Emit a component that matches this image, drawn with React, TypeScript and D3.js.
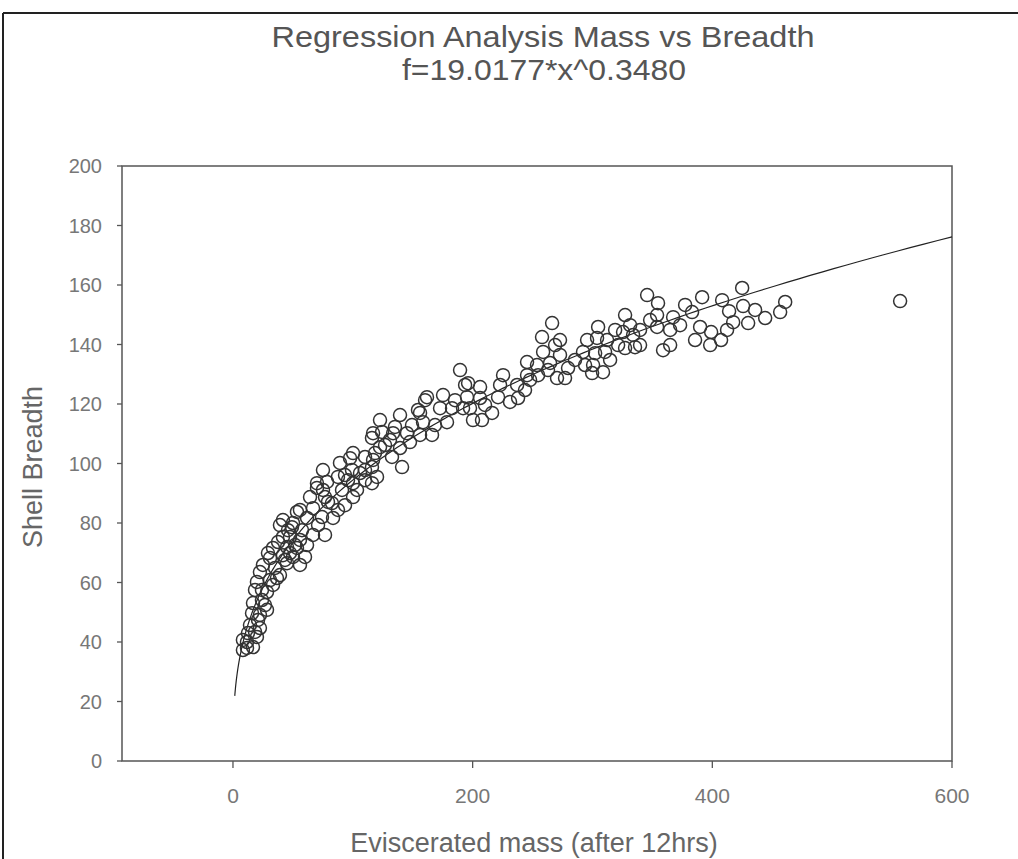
import React from "react";
import * as d3 from "d3";

// Scatter data: eviscerated mass (x) vs shell breadth (y)
const massValues: number[] = [
  345.6, 354.7, 327.2, 325.5, 327.2, 339.7, 339.7, 353.9, 353.9, 364.8,
  367.3, 358.9, 364.8, 383.1, 391.5, 389.8, 385.6, 399.0, 407.3, 412.3,
  408.2, 414.0, 424.9, 425.7, 429.9, 444.1, 456.6, 460.8, 556.7,
  304.7, 303.8, 312.2, 295.5, 292.1, 302.2, 310.5, 300.5, 308.8, 299.7,
  321.4, 333.9, 335.5, 266.3, 257.9, 268.8, 258.8, 264.6, 272.9, 279.6,
  270.4, 277.1, 253.7, 245.4, 245.4, 254.6, 237.1, 225.4, 222.9, 221.2,
  231.2, 216.2, 206.2, 206.2, 196.2, 195.3, 192.0, 200.3, 189.5, 193.7,
  182.8, 172.8, 178.6, 160.3, 154.4, 158.6, 168.6, 166.1, 139.4, 135.2,
  145.2, 122.7, 124.4, 131.0, 139.4, 147.7, 141.1, 132.7, 122.7, 116.0,
  118.5, 110.2, 116.0, 120.2, 97.7, 99.3, 89.3, 87.6, 100.2, 106.0,
  75.1, 78.5, 91.0, 100.2, 70.1, 64.3, 76.8, 82.6, 87.6, 66.8,
  61.8, 74.3, 83.5, 70.1, 79.3, 53.4, 39.2, 49.2, 57.6, 76.8,
  66.8, 47.6, 55.9, 37.6, 33.4, 45.1, 53.4, 41.7, 50.1, 60.1,
  30.9, 55.9, 45.1, 25.0, 35.1, 22.5, 39.2, 30.9, 20.0, 33.4,
  18.4, 28.4, 24.2, 16.7, 28.4, 15.9, 20.9, 14.2, 22.5, 12.5,
  20.0, 11.7, 16.7, 11.7, 161.9, 156.1, 133.6, 116.9, 116.9, 116.0,
  100.2, 96.0, 75.1, 55.9, 50.1, 41.7, 61.8, 47.6, 8.3, 8.3,
  18.4, 22.5, 26.7, 24.2, 36.7, 29.2, 43.4, 51.8, 45.9, 41.7,
  93.5, 110.2, 126.9, 149.4, 156.1, 175.3, 185.3, 197.8, 210.3, 207.8,
  237.9, 243.7, 247.9, 262.9, 272.9, 285.4, 293.8, 314.7, 318.9, 331.4,
  348.1, 373.1, 377.3, 398.2, 417.4, 435.7, 71.0, 93.5, 103.5, 110.2,
];
const breadthValues: number[] = [
  156.6, 153.9, 149.9, 144.2, 138.8, 144.9, 139.8, 149.9, 145.9, 144.9,
  149.2, 138.1, 139.8, 150.9, 155.9, 145.9, 141.5, 144.2, 141.5, 144.9,
  154.9, 151.2, 159.0, 152.9, 147.2, 148.9, 150.9, 154.3, 154.6,
  145.9, 142.2, 141.5, 141.5, 137.5, 137.1, 137.5, 133.1, 130.7, 130.4,
  139.8, 143.2, 139.1, 147.2, 142.5, 139.8, 137.5, 133.8, 136.5, 132.1,
  128.7, 128.7, 133.1, 134.1, 129.7, 129.7, 126.4, 129.7, 126.4, 122.3,
  120.7, 117.0, 125.7, 122.0, 127.0, 122.3, 118.6, 114.6, 131.4, 126.4,
  118.6, 118.6, 113.9, 121.3, 118.0, 113.9, 112.9, 109.6, 116.3, 112.3,
  110.2, 114.6, 110.6, 107.9, 105.2, 107.2, 98.8, 102.2, 105.5, 108.6,
  103.5, 102.2, 98.8, 95.5, 101.8, 97.8, 100.2, 95.5, 93.4, 96.8,
  97.8, 93.8, 91.1, 88.7, 91.8, 88.7, 88.7, 86.7, 84.4, 85.0,
  81.7, 82.0, 81.7, 93.4, 87.1, 83.7, 79.3, 78.6, 77.6, 76.0,
  76.0, 75.3, 74.3, 73.6, 71.6, 71.9, 71.6, 69.2, 68.6, 68.6,
  68.2, 65.9, 66.5, 65.9, 64.9, 63.5, 62.5, 60.8, 60.2, 59.2,
  57.5, 56.8, 54.1, 53.1, 50.8, 49.7, 47.4, 45.7, 44.7, 43.0,
  41.7, 40.0, 38.3, 38.0, 122.3, 117.0, 110.2, 110.2, 101.2, 93.4,
  103.5, 94.4, 91.1, 84.4, 80.0, 75.3, 72.6, 69.9, 40.7, 37.3,
  43.4, 49.1, 52.4, 57.5, 61.5, 69.9, 67.6, 72.6, 77.6, 81.0,
  96.1, 97.8, 106.2, 112.9, 109.6, 123.0, 121.3, 118.6, 119.7, 114.6,
  122.0, 124.7, 128.1, 131.4, 141.5, 134.8, 133.1, 134.8, 144.9, 146.5,
  148.2, 146.5, 153.3, 139.8, 147.5, 151.6, 79.3, 86.0, 91.1, 94.4,
];

// Fitted regression f = a * x^b (from the chart subtitle)
const fitA = 19.0177;
const fitB = 0.348;
const fitRange: [number, number] = [1.5, 600];

const xTicks: number[] = [0, 200, 400, 600];
const yTicks: number[] = [0, 20, 40, 60, 80, 100, 120, 140, 160, 180, 200];

const titleText = "Regression Analysis Mass vs Breadth";
const subtitleText = "f=19.0177*x^0.3480";
const xLabel = "Eviscerated mass (after 12hrs)";
const yLabel = "Shell Breadth";

export default function App() {
  const W = 1018;
  const H = 859;
  const left = 122, right = 952, top = 166, bottom = 761;
  const x = d3.scaleLinear().domain([-92.6, 600]).range([left, right]);
  const y = d3.scaleLinear().domain([0, 200]).range([bottom, top]);

  const fitXs = d3.range(0, 301).map((i) => fitRange[0] * Math.pow(fitRange[1] / fitRange[0], i / 300));
  const line = d3
    .line<number>()
    .x((d) => x(d))
    .y((d) => y(fitA * Math.pow(d, fitB)));

  const font = "'Liberation Sans', Arial, sans-serif";
  const axisColor = "#555";
  const textColor = "#777";

  return (
    <svg
      width={W}
      height={H}
      style={{ position: "absolute", left: 0, top: 0, display: "block", background: "#fff" }}
      fontFamily={font}
    >
      <rect x={0} y={0} width={W} height={H} fill="#fff" />
      {/* outer frame */}
      <line x1={3} y1={13} x2={W} y2={13} stroke="#222" strokeWidth={2} />
      <line x1={3} y1={13} x2={3} y2={H} stroke="#222" strokeWidth={2} />

      {/* titles */}
      <text x={543} y={47} textAnchor="middle" fontSize={30} fill="#555" textLength={543} lengthAdjust="spacingAndGlyphs">
        {titleText}
      </text>
      <text x={544} y={80} textAnchor="middle" fontSize={30} fill="#555" textLength={284} lengthAdjust="spacingAndGlyphs">
        {subtitleText}
      </text>

      {/* plot frame */}
      <rect x={left} y={top} width={right - left} height={bottom - top} fill="none" stroke={axisColor} strokeWidth={1.5} />

      {/* y ticks */}
      {yTicks.map((t) => (
        <g key={"y" + t}>
          <line x1={left - 5} x2={left} y1={y(t)} y2={y(t)} stroke={axisColor} strokeWidth={1.3} />
          <text x={left - 20} y={y(t) + 7} textAnchor="end" fontSize={20} fill={textColor}>
            {t}
          </text>
        </g>
      ))}
      {/* x ticks */}
      {xTicks.map((t) => (
        <g key={"x" + t}>
          <line x1={x(t)} x2={x(t)} y1={bottom} y2={bottom + 7} stroke={axisColor} strokeWidth={1.3} />
          <text x={x(t)} y={bottom + 42} textAnchor="middle" fontSize={21} fill={textColor}>
            {t}
          </text>
        </g>
      ))}

      {/* axis labels */}
      <text x={534} y={852} textAnchor="middle" fontSize={27} fill="#666">
        {xLabel}
      </text>
      <text
        transform={`translate(42, 467) rotate(-90)`}
        textAnchor="middle"
        fontSize={27}
        fill="#666"
      >
        {yLabel}
      </text>

      {/* fit curve */}
      <path d={line(fitXs) || ""} fill="none" stroke="#222" strokeWidth={1.2} />

      {/* points */}
      {massValues.map((m, i) => (
        <circle key={i} cx={x(m)} cy={y(breadthValues[i])} r={6.5} fill="none" stroke="#333" strokeWidth={1.5} />
      ))}
    </svg>
  );
}
